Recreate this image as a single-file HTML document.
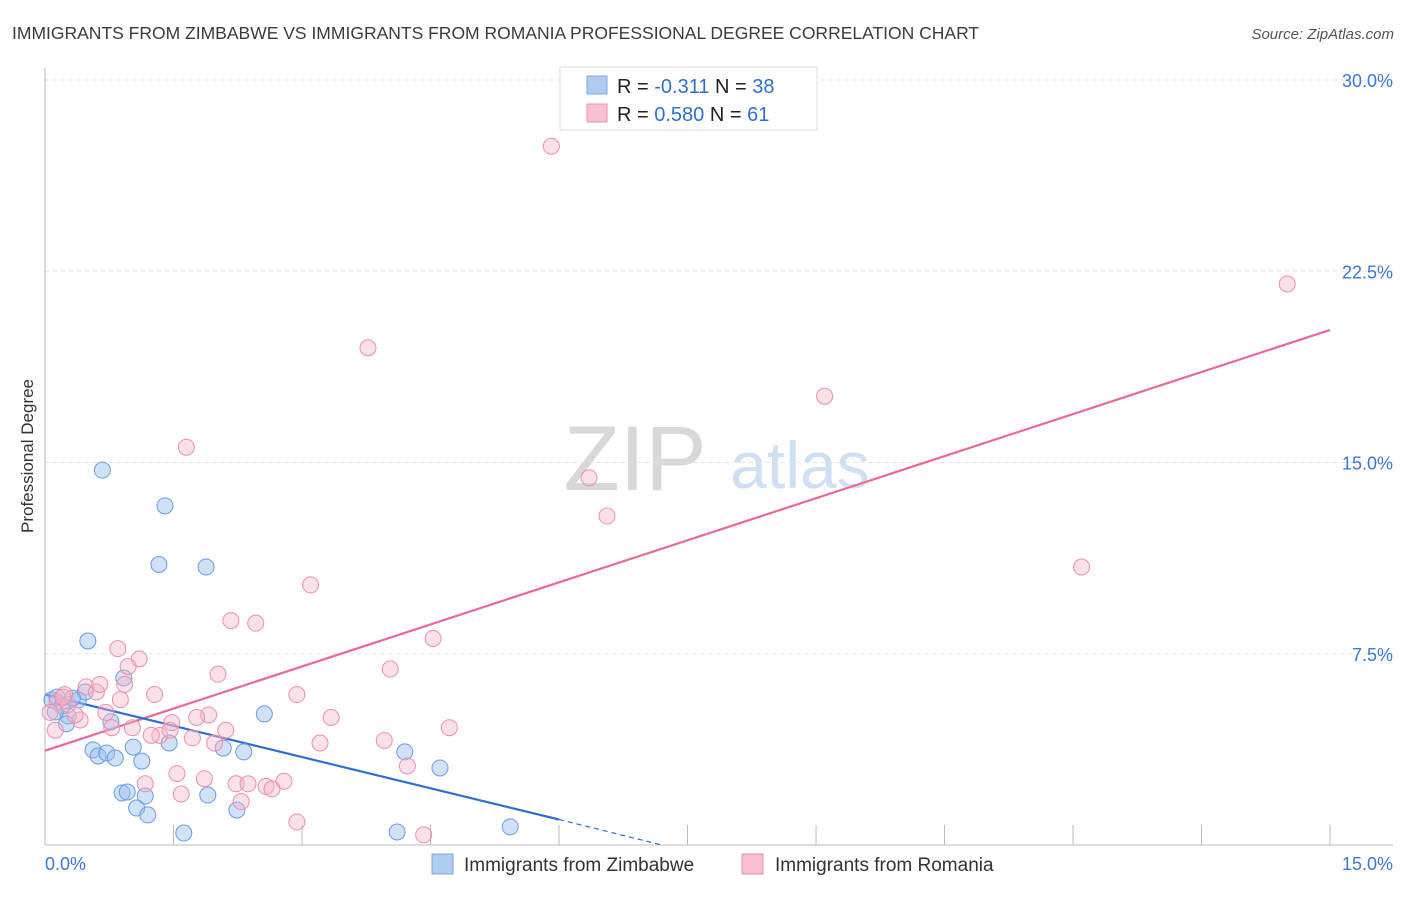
<!DOCTYPE html>
<html><head><meta charset="utf-8"><style>
body{margin:0;background:#fff;font-family:"Liberation Sans",sans-serif;}
svg text{font-family:"Liberation Sans",sans-serif;}
</style></head><body>
<svg id="chart" width="1406" height="892">
<text x="12" y="39" font-size="17.5" fill="#3c3c3c">IMMIGRANTS FROM ZIMBABWE VS IMMIGRANTS FROM ROMANIA PROFESSIONAL DEGREE CORRELATION CHART</text>
<text x="1394" y="39" font-size="15" fill="#555" text-anchor="end" font-style="italic">Source: ZipAtlas.com</text>
<text x="33" y="456" font-size="17" fill="#333" text-anchor="middle" transform="rotate(-90 33 456)">Professional Degree</text>
<g><text x="635" y="490" font-size="92" fill="#d8d8d8" text-anchor="middle" font-family="Liberation Serif">ZIP</text><text x="800" y="488" font-size="66" fill="#cfe0f4" text-anchor="middle">atlas</text></g>
<g id="grid"></g><g id="axes"></g><g id="trend"></g><g id="points"></g>
<g>
<rect x="560" y="67" width="257" height="63" fill="#fff" stroke="#ddd"/>
<rect x="587" y="76" width="20" height="18" fill="#aecbf0" stroke="#7fa8e0"/>
<rect x="587" y="104" width="20" height="18" fill="#f9c0d0" stroke="#ee90ad"/>
<text x="617" y="93" font-size="20" fill="#222">R = <tspan fill="#2f6fd1">-0.311</tspan>   N = <tspan fill="#2f6fd1">38</tspan></text>
<text x="617" y="121" font-size="20" fill="#222">R = <tspan fill="#2f6fd1"> 0.580</tspan>   N = <tspan fill="#2f6fd1"> 61</tspan></text>
</g>
<g>
<rect x="432" y="854" width="21" height="20" fill="#aecbf0" stroke="#7fa8e0"/>
<text x="464" y="871" font-size="19" fill="#333">Immigrants from Zimbabwe</text>
<rect x="742" y="854" width="21" height="20" fill="#f9c0d0" stroke="#ee90ad"/>
<text x="775" y="871" font-size="19" fill="#333">Immigrants from Romania</text>
</g>
</svg>
<script>
const xTicks=[0,1.5,3,4.5,6,7.5,9,10.5,12,13.5,15];
const yTicks=[7.5,15,22.5,30];
const yTickLabels=["7.5%","15.0%","22.5%","30.0%"];
const zimX=[0.08,0.14,0.2,0.27,0.25,0.39,0.47,0.67,0.5,0.77,0.92,0.56,0.62,0.72,0.82,1.03,1.13,0.9,0.96,1.17,1.07,1.2,1.33,1.4,1.45,1.62,1.88,1.9,2.08,2.24,2.32,2.56,4.11,4.2,4.61,5.43,0.12,0.32];
const zimY=[5.69,5.8,5.45,5.06,4.75,5.69,6.0,14.7,8.0,4.83,6.55,3.73,3.49,3.61,3.41,3.84,3.29,2.04,2.08,1.92,1.45,1.18,11.0,13.3,4.0,0.47,10.9,1.96,3.8,1.37,3.65,5.14,0.51,3.65,3.02,0.71,5.22,5.76];
const romX=[5.91,14.5,3.77,9.1,1.65,6.35,6.56,12.1,3.1,2.17,2.46,4.53,0.85,1.1,0.97,4.03,2.02,0.93,0.48,0.6,1.28,2.94,0.23,0.14,0.71,1.91,1.77,3.34,0.41,1.48,4.72,1.02,0.78,2.11,1.34,1.24,1.72,1.98,3.21,3.96,0.06,0.12,1.17,1.54,1.86,2.23,2.37,2.58,2.79,2.65,1.59,2.29,4.23,2.94,4.42,0.64,0.27,1.46,0.21,0.35,0.88];
const romY=[27.4,22.0,19.5,17.6,15.6,14.4,12.9,10.9,10.2,8.8,8.7,8.1,7.7,7.3,7.0,6.9,6.7,6.3,6.2,6.0,5.9,5.9,5.9,5.6,5.2,5.1,5.0,5.0,4.9,4.8,4.6,4.6,4.6,4.5,4.3,4.3,4.2,4.0,4.0,4.1,5.2,4.5,2.4,2.8,2.6,2.4,2.4,2.3,2.5,2.2,2.0,1.7,3.1,0.9,0.4,6.3,5.5,4.5,5.8,5.1,5.7];
const zimTrend=[0,5.9,6,1.0]; const zimDash=[6,1.0,7.2,0];
const romTrend=[0,3.7,15,20.2];
const X=v=>45+v*85.67, Y=v=>845-v*25.5;
const ns="http://www.w3.org/2000/svg";
function mk(tag,attrs,parent){const e=document.createElementNS(ns,tag);for(const k in attrs)e.setAttribute(k,attrs[k]);document.getElementById(parent).appendChild(e);return e;}
yTicks.forEach((t,i)=>{
 const l=mk('line',{x1:45,x2:1393,y1:Y(t),y2:Y(t),stroke:'#e2e2e2','stroke-dasharray':'4,4'},'grid');
 
 
 const tx=mk('text',{x:1393,y:Y(t)+7,'font-size':18,fill:'#3b78d8','text-anchor':'end'},'axes');
 tx.textContent=yTickLabels[i];
 
 
});
const ax=mk('line',{x1:45,x2:45,y1:68,y2:845,stroke:'#bbb'},'axes');


const bx=mk('line',{x1:45,x2:1393,y1:845,y2:845,stroke:'#bbb'},'axes');


xTicks.forEach(t=>{
 const l=mk('line',{x1:X(t),x2:X(t),y1:825,y2:845,stroke:'#bbb'},'axes');
 
 
});
const x0=mk('text',{x:45,y:870,'font-size':18,fill:'#3b78d8'},'axes');x0.textContent=xTicks[0].toFixed(1)+'%';


const x1=mk('text',{x:1393,y:870,'font-size':18,fill:'#3b78d8','text-anchor':'end'},'axes');x1.textContent=xTicks[xTicks.length-1].toFixed(1)+'%';


zimX.forEach((v,i)=>{
 const c=mk('circle',{cx:X(v),cy:Y(zimY[i]),r:8,fill:'rgba(150,190,240,0.45)',stroke:'#6c9be0','stroke-width':1},'points');
 
 
});
romX.forEach((v,i)=>{
 const c=mk('circle',{cx:X(v),cy:Y(romY[i]),r:8,fill:'rgba(248,180,200,0.4)',stroke:'#ec8fae','stroke-width':1},'points');
 
 
});
const t1=mk('line',{x1:X(romTrend[0]),y1:Y(romTrend[1]),x2:X(romTrend[2]),y2:Y(romTrend[3]),stroke:'#e8689a','stroke-width':2.2},'trend');


const t2=mk('line',{x1:X(zimTrend[0]),y1:Y(zimTrend[1]),x2:X(zimTrend[2]),y2:Y(zimTrend[3]),stroke:'#2f6fd1','stroke-width':2.2},'trend');


const t3=mk('line',{x1:X(zimDash[0]),y1:Y(zimDash[1]),x2:X(zimDash[2]),y2:Y(zimDash[3]),stroke:'#2f6fd1','stroke-width':1.2,'stroke-dasharray':'5,4'},'trend');


</script>
</body></html>
